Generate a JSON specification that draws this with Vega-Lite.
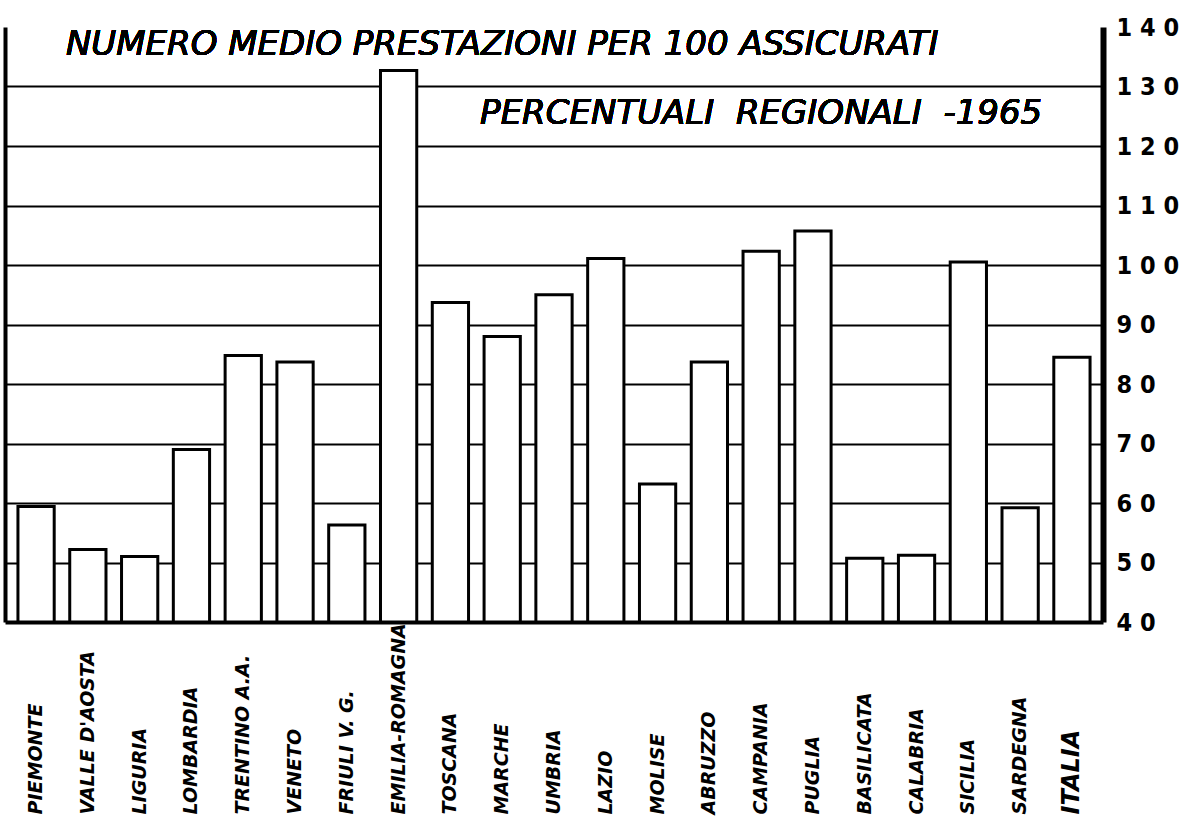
{
  "$schema": "https://vega.github.io/schema/vega-lite/v6.json",
  "width": 1098,
  "height": 595,
  "autosize": {"type": "none"},
  "padding": {"left": 5, "top": 27, "right": 81, "bottom": 203},
  "background": "white",
  "config": {"view": {"stroke": null}},
  "data": {
    "values": [
      {"regione": "PIEMONTE", "valore": 59.4},
      {"regione": "VALLE D'AOSTA", "valore": 52.2},
      {"regione": "LIGURIA", "valore": 51.0},
      {"regione": "LOMBARDIA", "valore": 69.0},
      {"regione": "TRENTINO A.A.", "valore": 84.8},
      {"regione": "VENETO", "valore": 83.7},
      {"regione": "FRIULI V. G.", "valore": 56.3},
      {"regione": "EMILIA-ROMAGNA", "valore": 132.7},
      {"regione": "TOSCANA", "valore": 93.7},
      {"regione": "MARCHE", "valore": 88.0},
      {"regione": "UMBRIA", "valore": 95.0},
      {"regione": "LAZIO", "valore": 101.1},
      {"regione": "MOLISE", "valore": 63.2},
      {"regione": "ABRUZZO", "valore": 83.7},
      {"regione": "CAMPANIA", "valore": 102.3},
      {"regione": "PUGLIA", "valore": 105.7},
      {"regione": "BASILICATA", "valore": 50.7},
      {"regione": "CALABRIA", "valore": 51.2},
      {"regione": "SICILIA", "valore": 100.5},
      {"regione": "SARDEGNA", "valore": 59.2},
      {"regione": "ITALIA", "valore": 84.5}
    ]
  },
  "resolve": {"axis": {"x": "independent", "y": "independent"}},
  "layer": [
    {
      "mark": {"type": "bar", "fill": "white", "stroke": "black", "strokeWidth": 3, "strokeJoin": "miter"},
      "encoding": {
        "x": {
          "field": "regione",
          "type": "nominal",
          "sort": null,
          "scale": {"paddingInner": 0.3, "paddingOuter": 0.25},
          "axis": {
            "title": null,
            "orient": "bottom",
            "domain": true,
            "domainColor": "black",
            "domainWidth": 4,
            "ticks": false,
            "grid": false,
            "labelAngle": -90,
            "labelAlign": "left",
            "labelBaseline": "middle",
            "labelPadding": 192,
            "labelFont": "DejaVu Sans",
            "labelFontStyle": "italic",
            "labelFontWeight": "bold",
            "labelFontSize": {"condition": {"test": "datum.value == 'ITALIA'", "value": 24}, "value": 19},
            "labelColor": "black",
            "labelOverlap": false,
            "labelLimit": 400
          }
        },
        "y": {
          "field": "valore",
          "type": "quantitative",
          "scale": {"domain": [40, 140], "zero": false, "nice": false},
          "axis": {
            "title": null,
            "orient": "right",
            "values": [40, 50, 60, 70, 80, 90, 100, 110, 120, 130, 140],
            "domain": true,
            "domainColor": "black",
            "domainWidth": 6,
            "ticks": false,
            "grid": true,
            "gridColor": "black",
            "gridWidth": 2,
            "gridOpacity": {"condition": {"test": "datum.value == 40 || datum.value == 140", "value": 0}, "value": 1},
            "labelExpr": "join(split(datum.label, ''), ' ')",
            "labelFont": "DejaVu Sans Condensed",
            "labelFontWeight": "bold",
            "labelFontSize": 25,
            "labelColor": "black",
            "labelPadding": 13,
            "labelFlush": false
          }
        },
        "y2": {"datum": 40}
      }
    },
    {
      "mark": {"type": "text", "font": "DejaVu Sans", "fontStyle": "italic", "fontSize": 34, "align": "center", "baseline": "middle", "color": "black"},
      "encoding": {
        "x": {"datum": "MARCHE", "type": "nominal", "axis": null},
        "y": {
          "datum": 137.0,
          "type": "quantitative",
          "axis": {"orient": "left", "title": null, "labels": false, "ticks": false, "grid": false, "domain": true, "domainColor": "black", "domainWidth": 4}
        },
        "text": {"value": "NUMERO MEDIO PRESTAZIONI PER 100 ASSICURATI"}
      }
    },
    {
      "mark": {"type": "text", "font": "DejaVu Sans", "fontStyle": "italic", "fontSize": 34, "align": "center", "baseline": "middle", "color": "black"},
      "encoding": {
        "x": {"datum": "CAMPANIA", "type": "nominal", "axis": null},
        "y": {"datum": 125.3, "type": "quantitative", "axis": null},
        "text": {"value": "PERCENTUALI\u00a0\u00a0REGIONALI\u00a0\u00a0-1965"}
      }
    }
  ]
}
